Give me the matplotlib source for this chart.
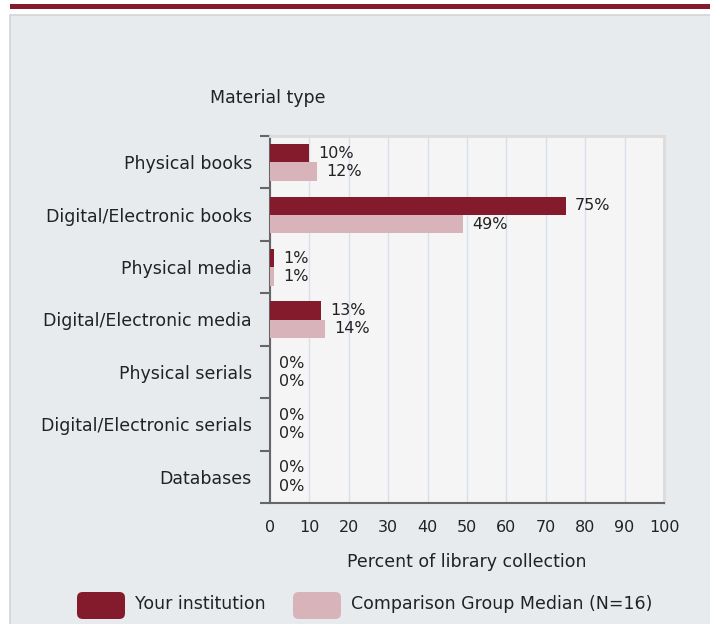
import numpy as np
import matplotlib
matplotlib.use("Agg")
import matplotlib.pyplot as plt
from matplotlib.patches import Rectangle, FancyBboxPatch

# data
categories = ["Physical books", "Digital/Electronic books", "Physical media",
              "Digital/Electronic media", "Physical serials",
              "Digital/Electronic serials", "Databases"]
your_inst = [10, 75, 1, 13, 0, 0, 0]
comparison = [12, 49, 1, 14, 0, 0, 0]
series_names = ["Your institution", "Comparison Group Median (N=16)"]
x_ticks = list(range(0, 101, 10))

dark = "#841B2D"
light = "#D9B3BA"
panel_bg = "#E8EBEE"
txt = "#222222"

plt.rcParams['font.family'] = ['DejaVu Sans']
W, H = 710, 624
fig = plt.figure(figsize=(W / 100, H / 100), dpi=100)
fig.patch.set_facecolor("white")

# top band + panel
fig.add_artist(Rectangle((10 / W, 1 - 9 / H), 1, 5 / H, transform=fig.transFigure,
                         facecolor=dark, edgecolor="none", zorder=-2))
fig.add_artist(Rectangle((10 / W, -0.01), 1, 1 - 15 / H + 0.01, transform=fig.transFigure,
                         facecolor=panel_bg, edgecolor="#D2D4D6", lw=1.2, zorder=-2))

ax = fig.add_axes([270 / W, 1 - 503 / H, 394 / W, 367 / H])
ax.set_facecolor("#F5F5F5")

y = np.arange(len(categories))
h = 0.35
ax.barh(y - 0.17, your_inst, height=h, color=dark, zorder=3)
ax.barh(y + 0.18, comparison, height=h, color=light, zorder=3)

for yi, v in zip(y - 0.17, your_inst):
    ax.annotate(f"{v}%", (v, yi), xytext=(6.5, 0), textcoords="offset points",
                va="center", ha="left", fontsize=11.5, color=txt)
for yi, v in zip(y + 0.18, comparison):
    ax.annotate(f"{v}%", (v, yi), xytext=(6.5, 0), textcoords="offset points",
                va="center", ha="left", fontsize=11.5, color=txt)

ax.set_xlim(0, 100)
ax.set_ylim(len(categories) - 0.5, -0.5)
ax.set_xticks(x_ticks)
ax.set_xticklabels([str(t) for t in x_ticks], fontsize=11.5, color=txt)
ax.tick_params(axis="x", length=0, pad=12)
ax.set_yticks(np.arange(-0.5, len(categories), 1.0))
ax.set_yticklabels([])
ax.set_yticks(y, minor=True)
ax.set_yticklabels(categories, minor=True, fontsize=12.5, color=txt)
ax.tick_params(axis="y", which="major", length=7, width=1.5, color="#666666", direction="out")
ax.tick_params(axis="y", which="minor", length=0, pad=13)

ax.grid(axis="x", color="#D8E0EC", lw=1, zorder=0)
for s in ["left", "bottom"]:
    ax.spines[s].set_color("#666666")
    ax.spines[s].set_linewidth(1.5)
for s in ["top", "right"]:
    ax.spines[s].set_color("#DCDCDC")
    ax.spines[s].set_linewidth(2)

fig.text(268 / W, 1 - 98 / H, "Material type", ha="center", va="center",
         fontsize=12.5, color=txt)
fig.text(467 / W, 1 - 562 / H, "Percent of library collection", ha="center",
         va="center", fontsize=12.5, color=txt)

# legend
for x0, col, name in [(77, dark, series_names[0]), (293, light, series_names[1])]:
    fig.add_artist(FancyBboxPatch((x0 / W, 1 - 619 / H), 48 / W, 27 / H,
                                  boxstyle="round,pad=0,rounding_size=0.008",
                                  transform=fig.transFigure, facecolor=col,
                                  edgecolor="none", mutation_aspect=W / H))
    fig.text((x0 + 58) / W, 1 - 604 / H, name, ha="left", va="center",
             fontsize=12.5, color=txt)

fig.savefig("out.png", dpi=100)
